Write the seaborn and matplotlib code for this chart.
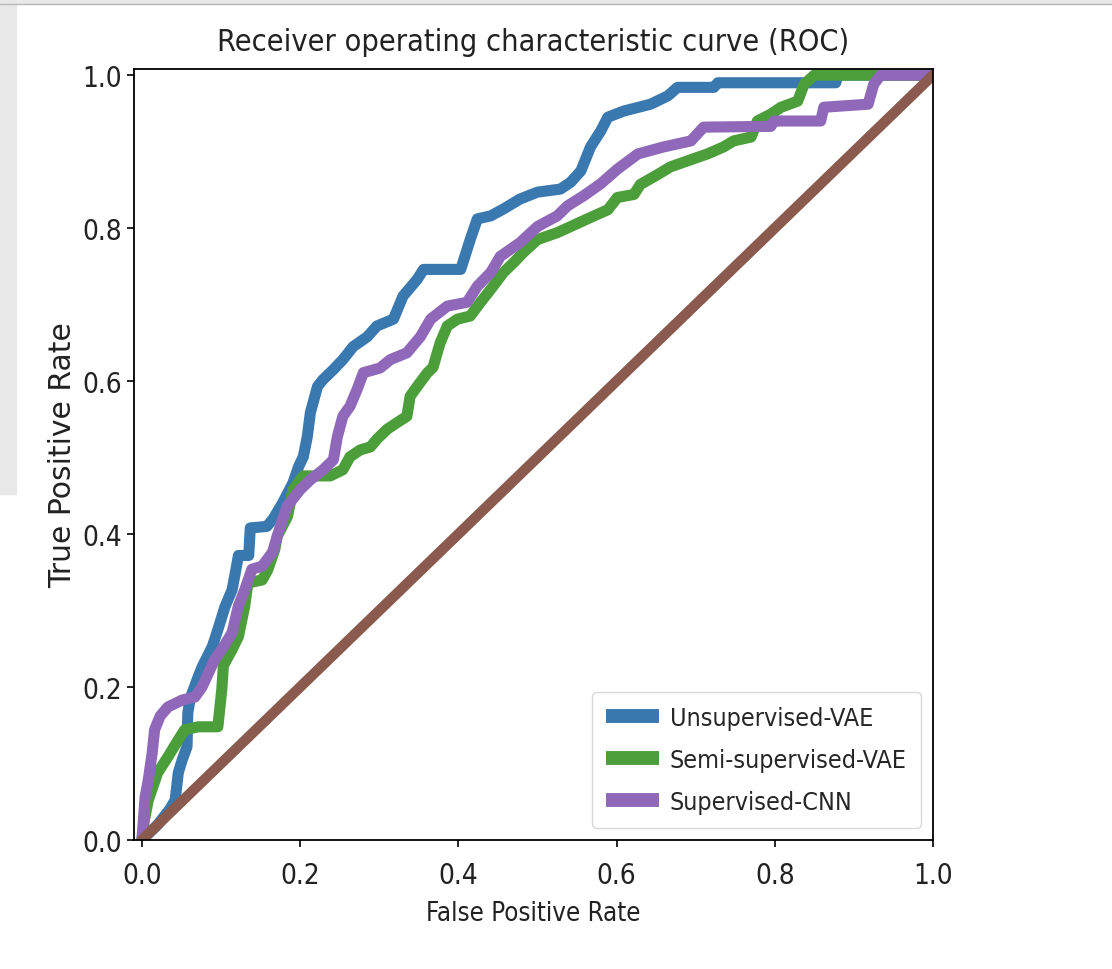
import numpy as np
import pandas as pd
import matplotlib
matplotlib.use("Agg")
import matplotlib.pyplot as plt
from matplotlib.patches import Rectangle
from matplotlib.lines import Line2D
import seaborn as sns

# ROC curve vertices (fpr, tpr)
blue_fpr = [0.0, 0.02, 0.035, 0.042, 0.046, 0.051, 0.057, 0.058, 0.061, 0.071, 0.076, 0.089, 0.096,
            0.105, 0.114, 0.118, 0.122, 0.135, 0.137, 0.158, 0.166, 0.178, 0.191, 0.198, 0.204, 0.209,
            0.213, 0.222, 0.229, 0.242, 0.254, 0.267, 0.285, 0.297, 0.318, 0.330, 0.348, 0.356, 0.403,
            0.415, 0.424, 0.441, 0.457, 0.478, 0.5, 0.529, 0.542, 0.555, 0.567, 0.58, 0.589, 0.609,
            0.643, 0.665, 0.677, 0.723, 0.728, 0.877, 0.88, 1.0]
blue_tpr = [0.0, 0.02, 0.04, 0.052, 0.088, 0.105, 0.122, 0.166, 0.185, 0.213, 0.226, 0.253, 0.275,
            0.305, 0.327, 0.349, 0.372, 0.372, 0.408, 0.41, 0.42, 0.441, 0.467, 0.488, 0.501, 0.527,
            0.559, 0.593, 0.602, 0.615, 0.628, 0.645, 0.658, 0.672, 0.681, 0.711, 0.733, 0.746, 0.746,
            0.785, 0.812, 0.816, 0.825, 0.838, 0.847, 0.851, 0.86, 0.875, 0.906, 0.927, 0.945, 0.953,
            0.962, 0.973, 0.984, 0.984, 0.99, 0.99, 1.0, 1.0]

green_fpr = [0.0, 0.003, 0.008, 0.02, 0.033, 0.046, 0.054, 0.071, 0.096, 0.101, 0.103, 0.114, 0.122,
             0.13, 0.134, 0.152, 0.159, 0.168, 0.171, 0.184, 0.191, 0.204, 0.238, 0.254, 0.263, 0.276,
             0.289, 0.297, 0.31, 0.323, 0.335, 0.339, 0.348, 0.361, 0.368, 0.377, 0.386, 0.399, 0.415,
             0.428, 0.441, 0.457, 0.47, 0.482, 0.5, 0.525, 0.542, 0.563, 0.589, 0.601, 0.622, 0.630,
             0.652, 0.668, 0.69, 0.715, 0.735, 0.748, 0.77, 0.778, 0.795, 0.808, 0.829, 0.837, 0.85, 1.0]
green_tpr = [0.0, 0.025, 0.052, 0.088, 0.109, 0.131, 0.144, 0.148, 0.148, 0.197, 0.228, 0.249, 0.266,
             0.306, 0.336, 0.34, 0.353, 0.38, 0.397, 0.423, 0.458, 0.476, 0.476, 0.484, 0.501, 0.51,
             0.514, 0.524, 0.537, 0.546, 0.554, 0.58, 0.593, 0.611, 0.618, 0.65, 0.672, 0.681, 0.685,
             0.703, 0.72, 0.742, 0.755, 0.768, 0.785, 0.794, 0.802, 0.812, 0.824, 0.840, 0.844, 0.857,
             0.870, 0.880, 0.888, 0.897, 0.906, 0.914, 0.919, 0.94, 0.949, 0.958, 0.966, 0.988, 1.0, 1.0]

purple_fpr = [0.0, 0.004, 0.008, 0.013, 0.016, 0.023, 0.033, 0.051, 0.067, 0.076, 0.084, 0.092, 0.101,
              0.114, 0.122, 0.13, 0.139, 0.152, 0.165, 0.172, 0.178, 0.184, 0.2, 0.213, 0.229, 0.242,
              0.247, 0.254, 0.263, 0.272, 0.28, 0.301, 0.314, 0.335, 0.352, 0.365, 0.386, 0.411, 0.424,
              0.441, 0.453, 0.478, 0.5, 0.525, 0.538, 0.558, 0.58, 0.601, 0.627, 0.659, 0.694, 0.71,
              0.795, 0.799, 0.858, 0.862, 0.918, 0.925, 0.934, 1.0]
purple_tpr = [0.0, 0.056, 0.078, 0.114, 0.144, 0.162, 0.174, 0.183, 0.187, 0.2, 0.218, 0.236, 0.249,
              0.271, 0.306, 0.327, 0.354, 0.358, 0.376, 0.40, 0.42, 0.437, 0.458, 0.471, 0.484, 0.497,
              0.527, 0.554, 0.567, 0.589, 0.611, 0.617, 0.628, 0.637, 0.658, 0.681, 0.698, 0.703, 0.724,
              0.742, 0.763, 0.781, 0.802, 0.816, 0.829, 0.842, 0.858, 0.877, 0.897, 0.906, 0.914, 0.932,
              0.933, 0.94, 0.94, 0.958, 0.962, 0.988, 1.0, 1.0]

chance = [0.0, 1.0]

labels = ["Unsupervised-VAE", "Semi-supervised-VAE", "Supervised-CNN"]
colors = ["#3a78b0", "#4c9e3a", "#9068b9"]
chance_color = "#895a4d"

sns.set_style("ticks")
plt.rcParams["font.family"] = ["DejaVu Sans"]
plt.rcParams["font.stretch"] = "condensed"

fig = plt.figure(figsize=(11.12, 9.70), dpi=100)
ax = fig.add_axes([134 / 1112, 1 - 841 / 970, (933 - 134) / 1112, (841 - 70) / 970])

for name, c, fpr, tpr in zip(labels, colors, [blue_fpr, green_fpr, purple_fpr],
                             [blue_tpr, green_tpr, purple_tpr]):
    sns.lineplot(x=fpr, y=tpr, sort=False, estimator=None, color=c, lw=8, ax=ax, label=name,
                 solid_joinstyle="round", solid_capstyle="round")
ax.plot(chance, chance, color=chance_color, lw=7.5)

ax.set_xlim(-0.01, 1.0)
ax.set_ylim(0.0, 1.008)
ax.set_xticks([0.0, 0.2, 0.4, 0.6, 0.8, 1.0])
ax.set_yticks([0.0, 0.2, 0.4, 0.6, 0.8, 1.0])
ax.tick_params(labelsize=20, length=5, width=1.2, color="black", labelcolor="#222222")
ax.tick_params(axis="x", pad=10)
for s in ax.spines.values():
    s.set_color("black")
    s.set_linewidth(1.3)

ax.set_title("Receiver operating characteristic curve (ROC)", fontsize=22, pad=14, color="#222222")
ax.set_xlabel("False Positive Rate", fontsize=18.5, color="#222222", labelpad=8)
ax.set_ylabel("True Positive Rate", fontsize=21.5, color="#222222", fontstretch="normal", labelpad=4)

leg = ax.legend(loc="lower right", fontsize=18, handlelength=2.1, frameon=True, fancybox=True,
                borderaxespad=0.5, labelspacing=0.72, handletextpad=0.45, borderpad=0.55)
leg.get_frame().set_edgecolor("#d0d0d0")
for h in leg.get_lines():
    h.set_linewidth(10)
    h.set_solid_capstyle("butt")

# screenshot border remnants
fig.add_artist(Rectangle((0, 1 - 495 / 970), 16 / 1112, 495 / 970, transform=fig.transFigure,
                         color="#e8e8e8", zorder=0))
fig.add_artist(Rectangle((0, 1 - 4 / 970), 1, 4 / 970, transform=fig.transFigure,
                         color="#e8e8e8", zorder=0))
fig.add_artist(Line2D([0, 1], [1 - 4.5 / 970, 1 - 4.5 / 970], transform=fig.transFigure,
                      color="#b8b8b8", lw=1))

fig.savefig("out.png", dpi=100)
